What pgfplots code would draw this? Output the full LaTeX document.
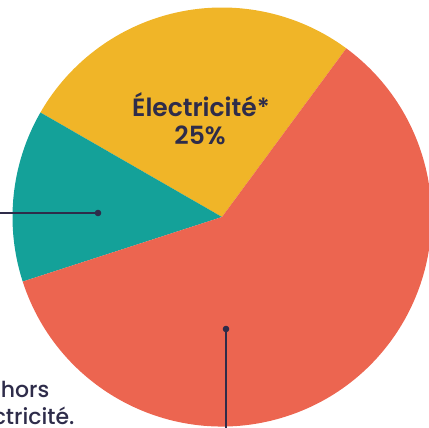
\documentclass[border=0pt]{standalone}
\usepackage{pgfplots}
\pgfplotsset{compat=1.18}
\usepackage{pgfplotstable}
\usepackage{fontspec}
\setmainfont{Poppins}[UprightFont={* Medium}, BoldFont={* SemiBold}]

\definecolor{pieyellow}{HTML}{F0B528}
\definecolor{pieteal}{HTML}{14A199}
\definecolor{piecoral}{HTML}{EC6550}
\definecolor{ink}{HTML}{2E2C4A}

% share of each slice (percent), counter-clockwise from the yellow/coral edge
\pgfplotstableread{
share colour
26.8  pieyellow
13.3  pieteal
59.9  piecoral
}\slices

\begin{document}
\begin{tikzpicture}
\path[use as bounding box, clip] (0,0) rectangle (429pt,428pt);
\begin{axis}[
    at={(0,0)}, anchor=origin,
    x=1pt, y=1pt,
    xmin=0, xmax=429, ymin=0, ymax=428,
    scale only axis, hide axis, clip=false,
]
\def\cx{222}\def\cy{211}\def\rad{209.5pt}
\pgfmathsetmacro{\acc}{53.6}
\pgfplotsinvokeforeach{0,1,2}{
    \pgfplotstablegetelem{#1}{share}\of\slices
    \pgfmathsetmacro{\span}{\pgfplotsretval*3.6}
    \pgfplotstablegetelem{#1}{colour}\of\slices
    \edef\slicecol{\pgfplotsretval}
    \edef\temp{\noexpand\fill[\slicecol] (axis cs:\cx,\cy) -- ++(\acc:\rad)
        arc[start angle=\acc, delta angle=\span, radius=\rad] -- cycle;}
    \temp
    \pgfmathsetmacro{\acc}{\acc+\span}
    \global\let\acc\acc
}
% leader lines
\addplot[ink, line width=1.3pt, mark=*, mark size=2.6pt, mark indices={2}]
    coordinates {(0,215) (98,215)};
\addplot[ink, line width=1.3pt, mark=*, mark size=2.6pt, mark indices={1}]
    coordinates {(226,99) (226,0)};
% labels
\node[ink, font=\fontsize{25}{28}\selectfont\bfseries, anchor=base]
    at (axis cs:201,311) {Électricité*};
\node[ink, font=\fontsize{25}{28}\selectfont\bfseries, anchor=base]
    at (axis cs:200,283) {25\%};
\node[ink, font=\fontsize{22}{27}\selectfont, anchor=base east]
    at (axis cs:53,30) {Énergie hors};
\node[ink, font=\fontsize{22}{27}\selectfont, anchor=base east]
    at (axis cs:78,3) {électricité.};
\end{axis}
\end{tikzpicture}
\end{document}
